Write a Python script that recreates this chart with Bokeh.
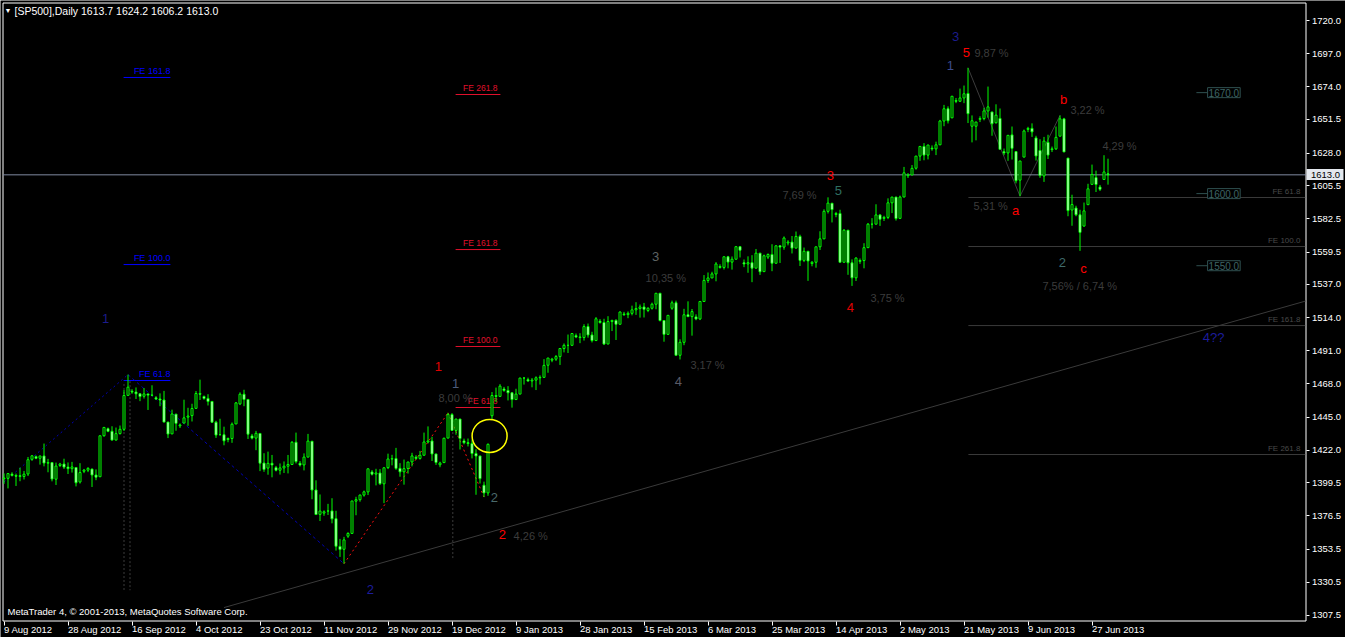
from bokeh.plotting import figure
from bokeh.models import Range1d, FixedTicker, ColumnDataSource, Label, LinearAxis
from bokeh.embed import file_html
from bokeh.resources import INLINE
from bokeh.core.properties import value

# ---------------- daily bars, 9 Aug 2012 .. 2 Jul 2013 (Sunday sessions included)
opens = [
    1402.3, 1402.6, 1405.5, 1404.6, 1404.4, 1403.9, 1405.6, 1415.8, 1417.6, 1416.5,
    1418.1, 1413.1, 1413.5, 1402.0, 1411.5, 1412.5, 1410.4, 1409.3, 1410.1, 1400.1,
    1407.5, 1408.3, 1409.0, 1404.9, 1403.7, 1432.1, 1437.0, 1435.2, 1429.1, 1433.6,
    1436.6, 1460.1, 1463.0, 1462.4, 1461.2, 1459.5, 1461.1, 1460.3, 1458.4, 1457.6,
    1456.9, 1441.6, 1433.4, 1447.1, 1439.0, 1440.9, 1445.0, 1446.1, 1451.1, 1461.4,
    1459.3, 1458.0, 1455.9, 1441.5, 1432.8, 1432.8, 1429.5, 1430.2, 1440.3, 1454.2,
    1460.9, 1457.3, 1432.0, 1430.5, 1433.7, 1413.2, 1409.7, 1413.0, 1410.0, 1408.2,
    1409.8, 1411.0, 1412.2, 1427.6, 1413.0, 1411.9, 1417.3, 1428.3, 1394.5, 1377.6,
    1378.5, 1379.9, 1380.0, 1374.6, 1355.4, 1353.4, 1362.5, 1364.4, 1386.8, 1387.8,
    1391.0, 1393.2, 1407.0, 1405.5, 1406.3, 1398.8, 1410.0, 1416.0, 1416.3, 1409.5,
    1407.1, 1409.4, 1414.0, 1417.2, 1416.4, 1418.6, 1427.8, 1428.5, 1419.5, 1412.0,
    1413.5, 1430.5, 1446.8, 1435.8, 1443.7, 1428.5, 1427.3, 1426.7, 1419.8, 1418.1,
    1397.8, 1392.5, 1446.0, 1460.0, 1459.4, 1464.5, 1463.5, 1461.9, 1457.2, 1461.0,
    1472.1, 1471.0, 1470.1, 1470.7, 1472.3, 1472.6, 1481.0, 1484.5, 1485.2, 1487.0,
    1492.6, 1494.8, 1494.8, 1501.5, 1500.6, 1500.2, 1507.8, 1502.0, 1498.1, 1511.5,
    1510.6, 1495.7, 1511.3, 1512.1, 1509.4, 1516.5, 1516.1, 1517.0, 1519.4, 1520.3,
    1521.4, 1519.0, 1520.5, 1523.3, 1530.9, 1512.0, 1502.4, 1520.5, 1524.3, 1487.9,
    1496.9, 1516.0, 1514.7, 1514.5, 1513.1, 1525.2, 1539.8, 1541.5, 1544.3, 1549.5,
    1548.8, 1556.2, 1552.5, 1554.5, 1563.2, 1552.0, 1551.2, 1552.1, 1548.3, 1558.7,
    1545.9, 1556.0, 1557.8, 1551.7, 1563.8, 1562.9, 1565.8, 1566.4, 1562.2, 1570.3,
    1553.7, 1560.0, 1551.5, 1552.4, 1563.1, 1568.6, 1587.7, 1593.3, 1585.5, 1586.2,
    1552.4, 1574.6, 1552.0, 1541.6, 1553.0, 1553.6, 1562.5, 1578.8, 1578.8, 1585.2,
    1582.8, 1583.5, 1593.6, 1597.6, 1582.8, 1597.6, 1612.4, 1612.9, 1617.6, 1626.0,
    1632.7, 1626.7, 1631.5, 1631.0, 1633.8, 1650.3, 1658.8, 1652.5, 1664.5, 1664.0,
    1666.3, 1669.4, 1646.7, 1646.7, 1651.5, 1652.0, 1657.3, 1656.6, 1649.1, 1652.1,
    1629.0, 1628.2, 1640.7, 1629.1, 1609.3, 1625.3, 1644.5, 1645.2, 1638.6, 1629.9,
    1612.2, 1635.5, 1630.5, 1631.0, 1639.8, 1651.8, 1624.6, 1588.6, 1590.0, 1585.3,
    1577.5, 1592.3, 1606.4, 1611.1, 1604.5, 1609.8, 1613.7,
]
highs = [
    1406.0, 1406.0, 1406.8, 1405.9, 1410.0, 1407.7, 1417.4, 1418.7, 1418.4, 1418.1,
    1426.7, 1416.1, 1413.5, 1413.5, 1413.3, 1416.2, 1413.6, 1414.0, 1410.1, 1413.1,
    1409.1, 1410.3, 1409.3, 1408.8, 1432.1, 1437.9, 1437.8, 1438.7, 1437.8, 1439.2,
    1463.8, 1474.5, 1464.4, 1465.6, 1461.5, 1465.2, 1461.2, 1467.1, 1459.6, 1461.5,
    1463.2, 1441.6, 1450.2, 1447.1, 1440.6, 1457.1, 1451.5, 1454.3, 1463.1, 1471.0,
    1460.0, 1460.9, 1455.9, 1442.5, 1443.9, 1438.4, 1430.9, 1441.3, 1455.5, 1462.2,
    1464.0, 1457.3, 1433.4, 1435.5, 1433.7, 1420.0, 1421.1, 1418.8, 1411.2, 1412.9,
    1414.3, 1418.8, 1428.4, 1434.3, 1414.6, 1419.9, 1433.4, 1428.3, 1401.2, 1391.4,
    1380.4, 1384.9, 1388.8, 1380.1, 1360.6, 1362.0, 1365.2, 1386.9, 1389.8, 1391.3,
    1394.1, 1409.2, 1408.3, 1409.2, 1409.0, 1410.3, 1419.7, 1418.9, 1423.7, 1413.1,
    1415.6, 1414.0, 1420.3, 1418.6, 1421.6, 1434.3, 1438.6, 1431.4, 1419.5, 1414.1,
    1430.7, 1448.0, 1447.8, 1443.7, 1443.7, 1430.1, 1430.2, 1429.4, 1422.8, 1418.1,
    1400.3, 1426.7, 1462.4, 1465.5, 1467.9, 1466.0, 1466.5, 1461.9, 1464.7, 1472.3,
    1472.8, 1472.4, 1472.1, 1473.3, 1474.0, 1485.2, 1486.0, 1486.1, 1488.1, 1492.6,
    1496.1, 1502.3, 1503.3, 1503.0, 1503.2, 1509.4, 1509.9, 1504.2, 1514.4, 1513.0,
    1513.2, 1515.0, 1512.5, 1512.9, 1518.3, 1518.0, 1518.3, 1522.3, 1524.7, 1523.1,
    1524.2, 1521.2, 1524.4, 1530.9, 1530.9, 1512.0, 1515.6, 1525.8, 1525.8, 1499.0,
    1520.1, 1525.3, 1520.0, 1516.3, 1525.3, 1543.5, 1545.3, 1545.8, 1552.5, 1551.0,
    1556.3, 1556.8, 1556.4, 1563.3, 1563.6, 1554.3, 1556.5, 1557.3, 1561.6, 1558.7,
    1557.7, 1558.5, 1564.9, 1564.0, 1564.1, 1570.3, 1567.7, 1570.6, 1573.7, 1571.5,
    1562.6, 1560.0, 1553.2, 1563.1, 1573.9, 1589.1, 1597.4, 1593.3, 1587.3, 1588.8,
    1575.4, 1574.6, 1554.4, 1555.9, 1555.0, 1565.6, 1579.6, 1583.0, 1592.6, 1585.8,
    1584.6, 1596.7, 1597.6, 1597.6, 1598.6, 1618.5, 1614.2, 1619.8, 1626.0, 1632.8,
    1635.0, 1633.7, 1633.4, 1636.0, 1651.1, 1661.5, 1660.5, 1667.5, 1666.3, 1672.8,
    1674.9, 1687.2, 1654.2, 1649.8, 1653.6, 1659.5, 1674.2, 1656.6, 1661.9, 1659.0,
    1631.2, 1640.4, 1646.5, 1629.3, 1622.6, 1644.4, 1646.3, 1648.7, 1640.1, 1637.7,
    1639.3, 1640.8, 1632.6, 1646.5, 1654.2, 1652.5, 1624.6, 1599.2, 1591.6, 1588.8,
    1593.8, 1606.8, 1620.1, 1615.9, 1606.0, 1626.6, 1624.2,
]
lows = [
    1398.8, 1395.6, 1403.9, 1397.3, 1400.6, 1401.8, 1404.2, 1414.7, 1415.9, 1412.1,
    1410.9, 1406.8, 1400.5, 1398.0, 1410.4, 1409.1, 1405.6, 1406.6, 1397.0, 1399.0,
    1406.2, 1406.9, 1396.6, 1401.3, 1403.7, 1431.5, 1434.6, 1429.0, 1429.1, 1433.0,
    1435.4, 1460.1, 1461.2, 1457.6, 1456.1, 1457.9, 1450.0, 1459.5, 1456.9, 1452.6,
    1441.6, 1430.5, 1433.4, 1435.6, 1437.5, 1440.9, 1439.0, 1442.0, 1451.1, 1456.9,
    1457.1, 1453.1, 1441.2, 1430.6, 1432.8, 1425.5, 1427.6, 1427.2, 1440.3, 1453.4,
    1452.6, 1429.9, 1429.6, 1422.1, 1407.6, 1407.1, 1405.1, 1403.3, 1407.4, 1405.2,
    1406.3, 1406.0, 1412.2, 1412.9, 1410.8, 1408.1, 1417.3, 1388.1, 1377.5, 1373.0,
    1376.6, 1377.2, 1371.4, 1352.5, 1348.1, 1343.4, 1361.3, 1364.4, 1377.0, 1386.4,
    1389.9, 1391.0, 1404.6, 1397.7, 1398.0, 1385.4, 1409.0, 1411.6, 1408.5, 1403.7,
    1398.2, 1405.9, 1410.9, 1415.5, 1415.6, 1418.6, 1426.8, 1414.6, 1411.9, 1410.3,
    1413.5, 1430.5, 1435.8, 1432.8, 1422.6, 1426.2, 1424.7, 1416.4, 1391.2, 1399.0,
    1389.6, 1390.5, 1443.5, 1455.5, 1459.0, 1462.6, 1456.6, 1451.6, 1457.2, 1461.0,
    1467.6, 1469.5, 1465.7, 1463.8, 1467.6, 1472.6, 1475.8, 1483.1, 1484.0, 1481.2,
    1489.9, 1489.5, 1494.8, 1499.8, 1496.3, 1498.1, 1500.1, 1496.8, 1498.1, 1509.9,
    1495.0, 1495.7, 1504.7, 1498.5, 1509.4, 1515.2, 1513.6, 1515.6, 1515.9, 1514.0,
    1514.1, 1517.8, 1519.6, 1519.8, 1511.4, 1497.3, 1502.4, 1519.4, 1487.9, 1485.0,
    1494.9, 1514.5, 1501.5, 1512.2, 1512.3, 1525.2, 1538.1, 1541.5, 1539.2, 1548.0,
    1547.4, 1548.2, 1547.3, 1554.5, 1555.7, 1549.0, 1545.1, 1538.6, 1548.3, 1543.6,
    1545.9, 1554.6, 1546.2, 1551.7, 1551.9, 1561.1, 1564.1, 1558.5, 1562.2, 1549.8,
    1552.5, 1539.5, 1549.6, 1548.6, 1560.9, 1568.6, 1586.2, 1580.0, 1583.6, 1552.3,
    1552.4, 1543.7, 1536.0, 1539.4, 1551.3, 1548.2, 1562.5, 1575.8, 1578.8, 1577.6,
    1581.0, 1582.3, 1586.5, 1581.3, 1582.8, 1597.6, 1610.8, 1612.9, 1616.6, 1622.7,
    1623.1, 1623.7, 1629.7, 1626.7, 1633.8, 1646.7, 1648.6, 1652.5, 1662.7, 1663.5,
    1662.7, 1648.9, 1635.5, 1636.9, 1649.6, 1650.8, 1652.6, 1640.1, 1648.6, 1630.7,
    1626.6, 1622.7, 1623.6, 1607.1, 1598.2, 1625.3, 1642.6, 1639.3, 1622.9, 1610.9,
    1608.1, 1624.0, 1628.8, 1630.3, 1639.8, 1628.9, 1584.3, 1577.7, 1584.3, 1560.3,
    1577.1, 1592.3, 1606.4, 1601.1, 1601.8, 1609.8, 1606.2,
]
closes = [
    1402.8, 1405.9, 1404.6, 1404.1, 1403.9, 1405.5, 1415.5, 1418.2, 1416.5, 1418.1,
    1413.2, 1413.5, 1402.1, 1411.1, 1412.5, 1410.4, 1409.3, 1410.5, 1399.5, 1406.6,
    1408.3, 1409.5, 1404.9, 1403.4, 1432.1, 1437.9, 1435.2, 1429.1, 1433.6, 1436.6,
    1460.0, 1465.8, 1462.4, 1461.2, 1459.3, 1461.1, 1460.3, 1460.2, 1457.6, 1456.9,
    1441.6, 1433.3, 1447.2, 1440.7, 1439.6, 1444.5, 1445.8, 1451.0, 1461.4, 1460.9,
    1458.0, 1455.9, 1441.5, 1432.6, 1432.8, 1428.6, 1430.2, 1440.1, 1454.9, 1460.9,
    1457.3, 1433.2, 1430.5, 1433.8, 1413.1, 1408.8, 1413.0, 1411.9, 1408.2, 1409.8,
    1411.0, 1412.2, 1427.6, 1414.2, 1411.9, 1417.3, 1428.4, 1394.5, 1377.5, 1379.9,
    1379.4, 1380.0, 1374.5, 1355.5, 1353.3, 1359.9, 1364.4, 1386.9, 1387.8, 1391.0,
    1393.2, 1409.2, 1405.5, 1406.3, 1398.9, 1409.9, 1416.0, 1416.2, 1409.5, 1407.1,
    1409.3, 1413.9, 1418.1, 1416.4, 1418.6, 1427.8, 1428.5, 1419.5, 1413.6, 1413.2,
    1430.4, 1446.8, 1435.8, 1443.7, 1430.2, 1427.3, 1426.7, 1419.8, 1418.1, 1402.4,
    1392.5, 1426.2, 1460.0, 1459.4, 1466.5, 1463.5, 1461.9, 1457.2, 1461.0, 1472.1,
    1472.1, 1470.1, 1470.7, 1472.3, 1472.6, 1480.9, 1486.0, 1485.2, 1487.0, 1492.6,
    1494.8, 1494.8, 1503.0, 1500.6, 1500.2, 1507.8, 1502.0, 1498.1, 1513.2, 1510.6,
    1495.7, 1511.3, 1512.1, 1509.4, 1517.9, 1516.1, 1517.0, 1519.4, 1520.3, 1521.4,
    1519.8, 1520.5, 1523.3, 1530.9, 1512.0, 1502.4, 1515.6, 1524.3, 1487.9, 1496.9,
    1516.0, 1514.7, 1518.2, 1513.1, 1525.2, 1539.8, 1541.5, 1544.3, 1551.2, 1548.8,
    1556.2, 1552.5, 1554.5, 1563.2, 1560.7, 1551.2, 1552.1, 1548.3, 1558.7, 1545.8,
    1556.9, 1557.8, 1551.7, 1563.8, 1562.9, 1569.2, 1566.4, 1562.2, 1570.3, 1553.7,
    1560.0, 1553.3, 1552.4, 1563.1, 1568.6, 1587.7, 1593.4, 1588.9, 1586.2, 1552.4,
    1574.6, 1552.0, 1541.6, 1555.3, 1553.6, 1562.5, 1578.8, 1578.8, 1585.2, 1582.2,
    1583.5, 1593.6, 1597.6, 1582.7, 1597.6, 1614.4, 1612.9, 1617.5, 1626.0, 1632.7,
    1626.7, 1633.7, 1631.0, 1633.8, 1650.3, 1658.8, 1650.5, 1667.5, 1664.0, 1666.3,
    1669.2, 1655.4, 1650.5, 1649.6, 1652.0, 1657.3, 1660.1, 1648.4, 1654.4, 1630.7,
    1628.2, 1640.4, 1631.4, 1608.9, 1622.6, 1643.4, 1645.2, 1642.8, 1626.1, 1612.5,
    1636.4, 1626.7, 1631.0, 1639.0, 1651.8, 1628.9, 1588.2, 1592.4, 1585.3, 1573.1,
    1588.0, 1603.3, 1613.2, 1606.3, 1603.0, 1615.0, 1613.0,
]

# ---------------- axis labels
date_labels = ["9 Aug 2012", "28 Aug 2012", "16 Sep 2012", "4 Oct 2012", "23 Oct 2012",
               "11 Nov 2012", "29 Nov 2012", "19 Dec 2012", "9 Jan 2013", "28 Jan 2013",
               "15 Feb 2013", "6 Mar 2013", "25 Mar 2013", "14 Apr 2013", "2 May 2013",
               "21 May 2013", "9 Jun 2013", "27 Jun 2013"]
bars_per_label = 16
price_ticks = [1720.0, 1697.0, 1674.0, 1651.5, 1628.0, 1605.5, 1582.5, 1559.5, 1537.0,
               1514.0, 1491.0, 1468.0, 1445.0, 1422.0, 1399.5, 1376.5, 1353.5, 1330.5, 1307.5]

# ---------------- wave counts
wave_text = ["1", "2", "1", "1", "2", "2", "3", "4", "3", "5", "4", "3", "1", "5", "a", "b", "c", "2", "4??"]
wave_x = [25.4, 91.6, 112.9, 108.6, 124.6, 122.6, 162.9, 168.6, 206.6, 208.6, 211.6,
          237.9, 236.6, 240.6, 252.9, 264.9, 269.9, 264.6, 302.4]
wave_y = [1513.4, 1325.5, 1468.4, 1480.1, 1363.7, 1389.3, 1556.4, 1469.7, 1612.5, 1602.1,
          1521.0, 1708.9, 1688.8, 1697.8, 1588.3, 1665.2, 1548.1, 1552.2, 1500.2]
wave_color = ["#1c1c8c", "#1c1c9c", "#4c5c7c", "#e00000", "#ff0000", "#4a6a6a", "#5e6464",
              "#5a5a66", "#ff0000", "#2e6e60", "#e00000", "#1c1c8c", "#3c4c8c", "#ff0000",
              "#ff0000", "#ff0000", "#ff0000", "#3e6a6a", "#1c1c9c"]

# ---------------- swing percentages
pct_text = ["8,00 %", "4,26 %", "10,35 %", "3,17 %", "7,69 %", "3,75 %", "9,87 %",
            "3,22 %", "5,31 %", "4,29 %", "7,56% / 6,74 %"]
pct_x = [108.6, 127.4, 160.4, 171.6, 194.6, 216.6, 242.6, 266.6, 242.4, 274.6, 259.6]
pct_y = [1458.6, 1362.9, 1541.8, 1481.5, 1598.7, 1527.3, 1697.8, 1658.3, 1591.1, 1633.3, 1535.6]

# ---------------- Fibonacci expansion levels
fe_blue_lvl = [1680.5, 1550.8, 1470.4]
fe_blue_txt = ["FE 161.8", "FE 100.0", "FE 61.8"]
fe_blue_span = (29.9, 41.6)
fe_red_lvl = [1668.7, 1561.2, 1494.0, 1451.7]
fe_red_txt = ["FE 261.8", "FE 161.8", "FE 100.0", "FE 61.8"]
fe_red_span = (112.9, 124.1)
fe_gray_lvl = [1597.3, 1563.3, 1508.5, 1419.1]
fe_gray_txt = ["FE 61.8", "FE 100.0", "FE 161.8", "FE 261.8"]
fe_gray_start = 241.1

# ---------------- swing paths (bar index, price)
blue_up = ([0, 31], [1400.0, highs[31]])
blue_down = ([31, 85], [highs[31], lows[85]])
red_up = ([85, 111], [lows[85], highs[111]])
red_down = ([111, 120], [highs[111], lows[120]])
abc_x = [241, 254, 264]
abc_y = [highs[241], lows[254], highs[264]]
trend_x = [55.0, 325.4]
trend_y = [1313.0, 1525.5]
gap_center = (121.4, 1432.0)

marked_prices = [1670.0, 1600.0, 1550.0]
last_price = closes[-1]

# ---------------- page geometry: 4 px per bar, 1.4424 px per index point
W, H = 1345, 637
PX_BAR, PX_PT = 4.0, 1.4424
X0_PX, P_TOP = 3.5, 1733.87           # centre of bar 0, price at the top pixel row


def bar_at(px):
    return (px - X0_PX) / PX_BAR


def price_at(py):
    return P_TOP - py / PX_PT


X_LEFT, X_RIGHT = bar_at(2.5), bar_at(1305.5)      # chart window edges
Y_TOP, Y_BOT = price_at(2.5), price_at(620.5)

n = len(closes)
idx = list(range(n))
FONT = value("Liberation Sans")

p = figure(width=W, height=H, output_backend="svg", toolbar_location=None,
           x_range=Range1d(bar_at(0), bar_at(W)), y_range=Range1d(price_at(H), price_at(0)),
           x_axis_location=None, y_axis_location=None,
           min_border_left=0, min_border_right=0, min_border_top=0, min_border_bottom=0,
           background_fill_color="black", border_fill_color="black",
           outline_line_color=None)
p.grid.visible = False

# time axis: a label every 16 bars, written to the right of its tick
xa = LinearAxis(fixed_location=Y_BOT,
                ticker=FixedTicker(ticks=[bars_per_label * k for k in range(len(date_labels))]),
                major_label_overrides={bars_per_label * k: t for k, t in enumerate(date_labels)},
                major_label_orientation=-0.0001,
                axis_line_color=None, major_tick_line_color="white",
                major_tick_out=4, major_tick_in=0, minor_tick_line_color=None,
                major_label_standoff=4, major_label_text_color="white",
                major_label_text_font="Liberation Sans", major_label_text_font_size="9.5px")
p.add_layout(xa, "below")

# price axis
ya = LinearAxis(fixed_location=X_RIGHT, ticker=FixedTicker(ticks=price_ticks),
                major_label_overrides={t: f"{t:.1f}" for t in price_ticks},
                axis_line_color=None, major_tick_line_color="white",
                major_tick_out=3, major_tick_in=0, minor_tick_line_color=None,
                major_label_standoff=3, major_label_text_color="white",
                major_label_text_font="Liberation Sans", major_label_text_font_size="9.5px")
p.add_layout(ya, "right")

# last price tag sitting on the price axis
tag = LinearAxis(fixed_location=X_RIGHT, ticker=FixedTicker(ticks=[last_price]),
                 major_label_overrides={last_price: f"{last_price:.1f}"},
                 axis_line_color=None, major_tick_line_color="#e4e8ee",
                 major_tick_line_width=11, major_tick_out=37, major_tick_in=0,
                 minor_tick_line_color=None, major_label_standoff=-32,
                 major_label_text_color="black", major_label_text_font="Liberation Sans",
                 major_label_text_font_size="9.5px")
p.add_layout(tag, "right")

# chart window border
p.segment([X_LEFT, X_LEFT, X_RIGHT, X_LEFT], [Y_TOP, Y_TOP, Y_TOP, Y_BOT],
          [X_RIGHT, X_LEFT, X_RIGHT, X_RIGHT], [Y_TOP, Y_BOT, Y_BOT, Y_BOT],
          line_color="white", line_width=1)

# trendline and guide lines
p.line(trend_x, trend_y, line_color="#3a3a3a", line_width=1)
for xv, y0, y1 in [(30.0, 1468.0, 1325.0), (31.5, 1470.0, 1325.0), (112.2, 1443.0, 1347.0)]:
    p.segment([xv], [y0], [xv], [y1], line_color="#3c3c3c", line_dash="2 2", line_width=1)

p.line(abc_x, abc_y, line_color="#3c3c3c", line_width=1)

# Fibonacci expansion levels
p.segment([fe_gray_start] * 4, fe_gray_lvl, [X_RIGHT - 0.2] * 4, fe_gray_lvl,
          line_color="#3a3a3a", line_width=1)
p.text([X_RIGHT - 1.4] * 4, [v + 1.2 for v in fe_gray_lvl], fe_gray_txt,
       text_color="#4a4a4a", text_font=FONT, text_font_size="8px",
       text_align="right", text_baseline="bottom")
p.segment([fe_blue_span[0]] * 3, fe_blue_lvl, [fe_blue_span[1]] * 3, fe_blue_lvl,
          line_color="#0000ff", line_width=1)
p.text([fe_blue_span[1]] * 3, [v + 1.2 for v in fe_blue_lvl], fe_blue_txt,
       text_color="#0000ff", text_font=FONT, text_font_size="9px",
       text_align="right", text_baseline="bottom")
p.segment([fe_red_span[0]] * 4, fe_red_lvl, [fe_red_span[1]] * 4, fe_red_lvl,
          line_color="#e0102c", line_width=1)
p.text([fe_red_span[1] - 0.7] * 4, [v + 1.2 for v in fe_red_lvl], fe_red_txt,
       text_color="#e0102c", text_font=FONT, text_font_size="8.5px",
       text_align="right", text_baseline="bottom")

# swing paths
p.line(*blue_up, line_color="#0000b4", line_dash="2 3", line_width=1)
p.line(*blue_down, line_color="#0000b4", line_dash="3 3", line_width=1)
p.line(*red_up, line_color="#ff1010", line_dash="2 3", line_width=1)
p.line(*red_down, line_color="#ff1010", line_dash="2 3", line_width=1)

# current price line
p.segment([X_LEFT], [last_price], [X_RIGHT], [last_price], line_color="#7f8aa0", line_width=1)

# candles
src = ColumnDataSource(dict(
    x=idx, h=highs, l=lows,
    top=[max(o, c) for o, c in zip(opens, closes)],
    bot=[min(o, c) for o, c in zip(opens, closes)],
    fill=["black" if c >= o else "white" for o, c in zip(opens, closes)],
))
p.segment(x0="x", y0="l", x1="x", y1="h", source=src, line_color="#00ff00", line_width=1)
p.vbar(x="x", width=0.5, top="top", bottom="bot", source=src,
       fill_color="fill", line_color="#00ff00", line_width=1)

# highlight of the January gap
p.ellipse([gap_center[0]], [gap_center[1]], width=8.75, height=22.9, fill_alpha=0,
          line_color="#ffff00", line_width=1.5)

# annotations
p.text(pct_x, pct_y, pct_text, text_color="#3c3c3c", text_font=FONT,
       text_font_size="11px", text_align="left", text_baseline="middle")
p.text(wave_x, wave_y, wave_text, text_color=wave_color, text_font=FONT,
       text_font_size="13px", text_align="center", text_baseline="middle")

# marked price levels on the right
for pr in marked_prices:
    p.segment([298.1], [pr], [300.9], [pr], line_color="#2f5050", line_width=1)
    p.add_layout(Label(x=300.9, y=pr, text=f"{pr:.1f}", text_color="#3e6464",
                       text_font="Liberation Sans", text_font_size="10px",
                       text_align="left", text_baseline="middle",
                       border_line_color="#2f5050", background_fill_color="black",
                       padding=1))

# header and footer
p.add_layout(Label(x=4, y=H - 10, x_units="screen", y_units="screen", text="\u25bc",
                   text_color="white", text_font_size="7px", text_baseline="middle"))
p.add_layout(Label(x=14, y=H - 10, x_units="screen", y_units="screen",
                   text=f"[SP500],Daily  {opens[-1]:.1f} {highs[-1]:.1f} {lows[-1]:.1f} {closes[-1]:.1f}",
                   text_color="white", text_font="Liberation Sans", text_font_size="10.5px",
                   text_baseline="middle"))
p.add_layout(Label(x=7, y=H - 611, x_units="screen", y_units="screen",
                   text="MetaTrader 4, \u00a9 2001-2013, MetaQuotes Software Corp.",
                   text_color="white", text_font="Liberation Sans", text_font_size="9.5px",
                   text_baseline="middle"))

open("out.html", "w").write(file_html(p, INLINE))
